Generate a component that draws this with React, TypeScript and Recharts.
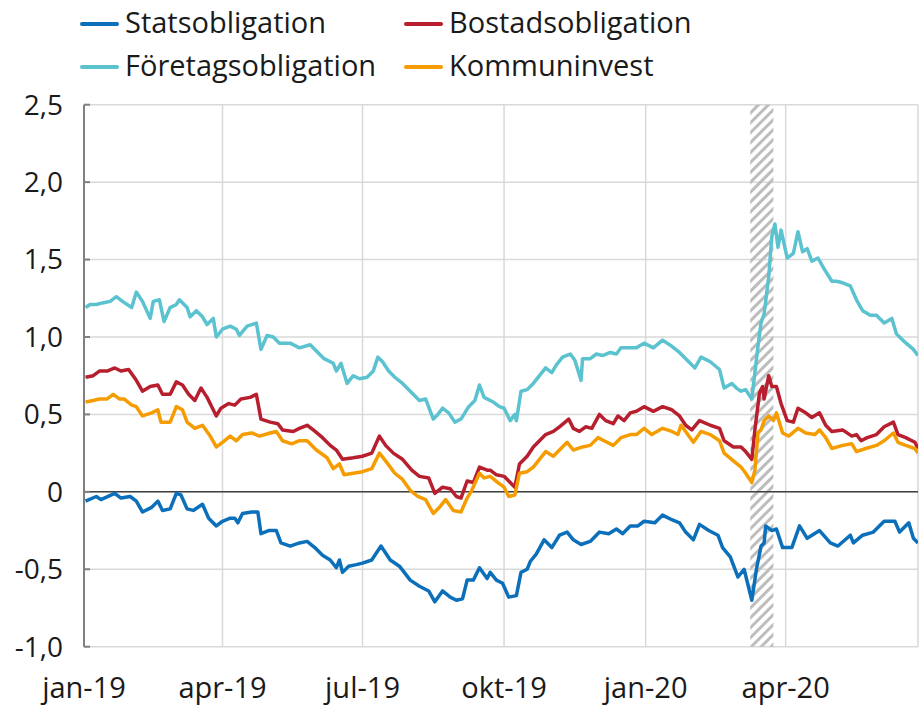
import React from 'react';
import { LineChart, Line, XAxis, YAxis, CartesianGrid, ReferenceArea, ReferenceLine, Legend } from 'recharts';

const FONT = '"Open Sans", sans-serif';

// x = dagar sedan 2019-01-01
const xTicks = [0, 90, 181, 273, 365, 456];
const xTickLabels = ['jan-19', 'apr-19', 'jul-19', 'okt-19', 'jan-20', 'apr-20'];
const yTicks = [-1, -0.5, 0, 0.5, 1, 1.5, 2, 2.5];
const krisperiod = [433, 448];

const statsDagar = [1, 8, 11, 20, 24, 30, 34, 38, 44, 48, 51, 56, 60, 63, 67, 71, 77, 81, 86, 90, 95, 98, 100, 103, 109, 113, 115, 120, 125, 128, 134, 140, 145, 150, 155, 160, 164, 166, 168, 172, 177, 181, 187, 193, 199, 205, 212, 218, 224, 228, 233, 238, 242, 246, 249, 253, 257, 262, 264, 268, 272, 276, 281, 284, 288, 290, 294, 299, 304, 309, 314, 318, 323, 329, 335, 341, 346, 350, 355, 360, 364, 371, 376, 382, 387, 391, 396, 400, 406, 412, 415, 420, 425, 429, 434, 437, 440, 442, 443, 447, 450, 454, 460, 465, 470, 478, 485, 490, 498, 500, 506, 513, 520, 527, 530, 536, 539, 542];
const statsRanta = [-0.06, -0.03, -0.05, -0.01, -0.04, -0.03, -0.06, -0.13, -0.1, -0.06, -0.12, -0.11, -0.01, -0.02, -0.11, -0.12, -0.08, -0.17, -0.22, -0.19, -0.17, -0.17, -0.2, -0.14, -0.13, -0.13, -0.27, -0.25, -0.25, -0.33, -0.35, -0.33, -0.32, -0.36, -0.41, -0.44, -0.49, -0.44, -0.52, -0.48, -0.47, -0.46, -0.44, -0.35, -0.44, -0.48, -0.57, -0.61, -0.64, -0.71, -0.64, -0.68, -0.7, -0.69, -0.57, -0.57, -0.49, -0.56, -0.52, -0.57, -0.59, -0.68, -0.67, -0.52, -0.5, -0.45, -0.4, -0.31, -0.36, -0.28, -0.26, -0.31, -0.34, -0.32, -0.26, -0.27, -0.24, -0.27, -0.22, -0.22, -0.19, -0.2, -0.15, -0.18, -0.2, -0.26, -0.31, -0.21, -0.25, -0.28, -0.36, -0.42, -0.55, -0.5, -0.7, -0.5, -0.35, -0.33, -0.22, -0.25, -0.24, -0.36, -0.36, -0.22, -0.3, -0.25, -0.33, -0.35, -0.28, -0.33, -0.28, -0.26, -0.19, -0.19, -0.26, -0.2, -0.3, -0.33];

const bostadDagar = [1, 6, 10, 15, 20, 24, 29, 34, 38, 43, 48, 51, 56, 60, 64, 68, 72, 76, 80, 83, 86, 89, 94, 98, 102, 108, 112, 115, 121, 126, 129, 136, 140, 145, 149, 155, 160, 164, 168, 175, 181, 187, 192, 196, 201, 207, 213, 218, 224, 228, 233, 238, 242, 245, 249, 253, 257, 262, 264, 268, 273, 277, 280, 283, 288, 292, 296, 300, 305, 309, 315, 318, 322, 326, 330, 335, 339, 344, 347, 351, 355, 359, 364, 370, 376, 382, 387, 391, 395, 400, 407, 413, 416, 422, 427, 430, 434, 436, 439, 441, 442, 445, 447, 450, 453, 457, 461, 464, 469, 473, 478, 482, 486, 493, 499, 502, 505, 509, 515, 520, 526, 529, 534, 540, 542];
const bostadRanta = [0.74, 0.75, 0.78, 0.78, 0.8, 0.78, 0.79, 0.72, 0.65, 0.68, 0.69, 0.63, 0.63, 0.71, 0.69, 0.63, 0.59, 0.67, 0.61, 0.55, 0.49, 0.54, 0.57, 0.56, 0.6, 0.61, 0.63, 0.47, 0.45, 0.44, 0.4, 0.39, 0.41, 0.43, 0.4, 0.35, 0.3, 0.27, 0.21, 0.22, 0.23, 0.25, 0.36, 0.3, 0.25, 0.21, 0.14, 0.1, 0.09, -0.01, 0.03, 0.02, -0.03, -0.04, 0.07, 0.06, 0.16, 0.14, 0.14, 0.11, 0.1, 0.06, 0.03, 0.18, 0.23, 0.29, 0.33, 0.37, 0.39, 0.42, 0.47, 0.41, 0.39, 0.42, 0.41, 0.5, 0.46, 0.44, 0.49, 0.46, 0.51, 0.52, 0.55, 0.52, 0.55, 0.53, 0.49, 0.43, 0.4, 0.46, 0.43, 0.41, 0.33, 0.29, 0.29, 0.26, 0.21, 0.4, 0.64, 0.68, 0.6, 0.75, 0.68, 0.68, 0.57, 0.46, 0.45, 0.54, 0.51, 0.48, 0.51, 0.43, 0.39, 0.4, 0.36, 0.37, 0.33, 0.35, 0.37, 0.42, 0.45, 0.37, 0.35, 0.32, 0.28];

const foretagDagar = [1, 4, 8, 12, 17, 21, 25, 31, 34, 38, 43, 45, 49, 52, 56, 60, 62, 67, 69, 73, 77, 80, 84, 86, 90, 95, 99, 101, 106, 112, 115, 119, 123, 127, 134, 140, 147, 151, 156, 162, 164, 167, 171, 175, 179, 184, 188, 191, 194, 198, 202, 207, 212, 218, 222, 227, 230, 233, 237, 241, 245, 250, 254, 257, 260, 266, 270, 273, 277, 280, 281, 284, 288, 292, 296, 300, 304, 307, 311, 316, 319, 323, 324, 329, 333, 337, 342, 346, 349, 355, 359, 364, 370, 376, 382, 387, 394, 397, 401, 407, 413, 416, 421, 424, 427, 430, 434, 438, 440, 442, 445, 447, 449, 451, 453, 455, 457, 461, 464, 467, 470, 473, 477, 481, 486, 489, 493, 498, 502, 506, 511, 515, 520, 525, 528, 532, 539, 542];
const foretagRanta = [1.19, 1.21, 1.21, 1.22, 1.23, 1.26, 1.23, 1.19, 1.29, 1.23, 1.12, 1.23, 1.24, 1.1, 1.19, 1.21, 1.24, 1.19, 1.13, 1.17, 1.13, 1.08, 1.12, 1.0, 1.05, 1.07, 1.05, 1.01, 1.07, 1.09, 0.92, 1.01, 1.0, 0.96, 0.96, 0.93, 0.95, 0.91, 0.86, 0.83, 0.78, 0.83, 0.7, 0.75, 0.73, 0.74, 0.78, 0.87, 0.84, 0.78, 0.74, 0.7, 0.65, 0.59, 0.6, 0.47, 0.5, 0.54, 0.51, 0.45, 0.47, 0.55, 0.59, 0.69, 0.61, 0.58, 0.55, 0.54, 0.46, 0.5, 0.46, 0.65, 0.66, 0.7, 0.75, 0.8, 0.77, 0.82, 0.87, 0.89, 0.85, 0.72, 0.86, 0.86, 0.89, 0.88, 0.9, 0.89, 0.93, 0.93, 0.93, 0.96, 0.93, 0.98, 0.94, 0.9, 0.83, 0.8, 0.87, 0.84, 0.79, 0.67, 0.7, 0.67, 0.65, 0.66, 0.6, 0.94, 1.09, 1.15, 1.39, 1.65, 1.73, 1.58, 1.69, 1.6, 1.51, 1.54, 1.68, 1.55, 1.57, 1.49, 1.51, 1.44, 1.36, 1.36, 1.35, 1.33, 1.24, 1.17, 1.14, 1.14, 1.09, 1.12, 1.02, 0.98, 0.92, 0.88];

const kommunDagar = [1, 6, 10, 15, 19, 23, 26, 31, 34, 38, 44, 48, 50, 56, 60, 64, 67, 72, 77, 82, 86, 90, 95, 99, 103, 109, 114, 121, 125, 129, 135, 140, 145, 151, 158, 162, 166, 169, 175, 181, 187, 192, 196, 202, 207, 212, 217, 222, 227, 231, 235, 240, 245, 249, 252, 257, 260, 264, 269, 273, 276, 280, 283, 288, 292, 296, 300, 305, 309, 314, 318, 324, 329, 334, 338, 344, 349, 355, 359, 364, 369, 376, 382, 386, 388, 391, 396, 401, 407, 413, 416, 422, 427, 430, 434, 436, 438, 440, 442, 445, 448, 450, 454, 458, 464, 469, 475, 478, 482, 486, 493, 499, 502, 508, 515, 520, 526, 529, 534, 540, 542];
const kommunRanta = [0.58, 0.59, 0.6, 0.6, 0.63, 0.6, 0.6, 0.56, 0.55, 0.49, 0.51, 0.53, 0.45, 0.45, 0.55, 0.53, 0.45, 0.41, 0.43, 0.36, 0.29, 0.32, 0.36, 0.33, 0.37, 0.38, 0.36, 0.38, 0.39, 0.33, 0.31, 0.33, 0.33, 0.27, 0.22, 0.15, 0.18, 0.11, 0.12, 0.13, 0.15, 0.25, 0.2, 0.12, 0.08, 0.01, -0.03, -0.05, -0.14, -0.1, -0.05, -0.12, -0.13, -0.04, 0.01, 0.12, 0.09, 0.1, 0.06, 0.03, -0.03, -0.02, 0.12, 0.13, 0.16, 0.21, 0.26, 0.23, 0.27, 0.32, 0.27, 0.29, 0.3, 0.35, 0.33, 0.3, 0.35, 0.37, 0.37, 0.41, 0.37, 0.41, 0.39, 0.37, 0.43, 0.39, 0.32, 0.39, 0.37, 0.33, 0.25, 0.2, 0.16, 0.12, 0.06, 0.14, 0.38, 0.4, 0.46, 0.49, 0.46, 0.51, 0.38, 0.36, 0.41, 0.38, 0.37, 0.4, 0.35, 0.28, 0.3, 0.31, 0.26, 0.28, 0.3, 0.33, 0.38, 0.32, 0.3, 0.28, 0.25];

const toPoints = (dagar: number[], ranta: number[]) => dagar.map((d, i) => ({ dag: d, v: ranta[i] }));

const series = [
  { name: 'Statsobligation', color: '#0b6fba', data: toPoints(statsDagar, statsRanta) },
  { name: 'Bostadsobligation', color: '#b81f2e', data: toPoints(bostadDagar, bostadRanta) },
  { name: 'Företagsobligation', color: '#5bc2d0', data: toPoints(foretagDagar, foretagRanta) },
  { name: 'Kommuninvest', color: '#f59d00', data: toPoints(kommunDagar, kommunRanta) },
];

const formatY = (v: number) => (v === 0 ? '0' : v.toFixed(1).replace('.', ','));
const formatX = (v: number) => xTickLabels[xTicks.indexOf(v)] ?? '';

// 2x2 legend, same order as the original
const LegendBox = () => {
  const cols = [80, 404];
  const rows = [32.5, 76];
  return (
    <div style={{ position: 'relative', width: 922, height: 90, fontFamily: FONT }}>
      {series.map((s, i) => {
        const left = cols[i % 2];
        const base = rows[Math.floor(i / 2)];
        return (
          <div key={s.name}>
            <div style={{ position: 'absolute', left, top: base - 11, width: 39, height: 4, background: s.color, borderRadius: 2 }} />
            <div style={{ position: 'absolute', left: left + 45, top: base - 25.7, fontSize: 29, lineHeight: 1, color: '#1a1a1a', whiteSpace: 'nowrap' }}>
              {s.name}
            </div>
          </div>
        );
      })}
    </div>
  );
};

export default function App() {
  return (
    <div style={{ position: 'absolute', left: 0, top: 0, width: 922, height: 705, background: '#fff' }}>
      <LineChart width={922} height={705} margin={{ top: 14.7, right: 0, bottom: 18.3, left: 0 }}>
        <defs>
          <pattern id="hatch" width="7" height="7" patternUnits="userSpaceOnUse" patternTransform="rotate(45)">
            <rect width="3" height="7" fill="#bdbdbd" />
          </pattern>
        </defs>
        <Legend verticalAlign="top" content={<LegendBox />} wrapperStyle={{ top: 0, left: 0 }} />
        <CartesianGrid yAxisId="left" stroke="#d9d9d9" strokeWidth={1.5} />
        <XAxis
          dataKey="dag"
          type="number"
          domain={[0, 542]}
          ticks={xTicks}
          tickFormatter={formatX}
          axisLine={false}
          tickLine={false}
          tickSize={0}
          tickMargin={31}
          height={40}
          allowDataOverflow
          tick={{ fill: '#1a1a1a', fontSize: 29, fontFamily: FONT }}
        />
        <YAxis
          yAxisId="left"
          domain={[-1, 2.5]}
          ticks={yTicks}
          tickFormatter={formatY}
          width={84}
          tickSize={-6}
          tickMargin={27}
          axisLine={{ stroke: '#808080', strokeWidth: 2 }}
          tickLine={{ stroke: '#808080', strokeWidth: 2 }}
          tick={{ fill: '#1a1a1a', fontSize: 28, fontFamily: FONT }}
        />
        <YAxis
          yAxisId="right"
          orientation="right"
          domain={[-1, 2.5]}
          ticks={yTicks}
          tickFormatter={() => ''}
          width={4}
          tickSize={3}
          axisLine={false}
          tickLine={{ stroke: '#595959', strokeWidth: 2 }}
        />
        <ReferenceArea
          yAxisId="left"
          x1={krisperiod[0]}
          x2={krisperiod[1]}
          fill="url(#hatch)"
          fillOpacity={1}
          stroke="none"
        />
        <ReferenceLine yAxisId="left" y={0} stroke="#404040" strokeWidth={1.5} />
        {series.map((s) => (
          <Line
            key={s.name}
            yAxisId="left"
            data={s.data}
            dataKey="v"
            name={s.name}
            stroke={s.color}
            strokeWidth={3.5}
            strokeLinejoin="round"
            dot={false}
            type="linear"
            isAnimationActive={false}
          />
        ))}
      </LineChart>
    </div>
  );
}
